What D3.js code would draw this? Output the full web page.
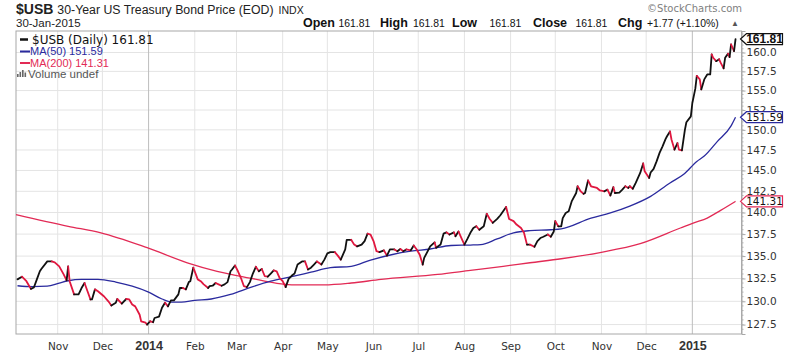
<!DOCTYPE html>
<html>
<head>
<meta charset="utf-8">
<script src="https://cdn.jsdelivr.net/npm/d3@7"></script>
<style>
  body { margin: 0; background: #fff; }
  svg { display: block; font-family: "Liberation Sans", Arial, sans-serif; }
</style>
</head>
<body>
<svg id="chart" width="800" height="354"></svg>
<script>
// $USB daily close
const priceDates = [
  "2013-10-05","2013-10-08","2013-10-11","2013-10-14","2013-10-16","2013-10-18","2013-10-20","2013-10-21","2013-10-25","2013-10-28","2013-10-30",
  "2013-11-02","2013-11-05","2013-11-07","2013-11-08","2013-11-09","2013-11-12","2013-11-15","2013-11-17","2013-11-19","2013-11-21","2013-11-23","2013-11-24","2013-11-26","2013-11-28",
  "2013-12-02","2013-12-05","2013-12-07","2013-12-10","2013-12-11","2013-12-14","2013-12-17","2013-12-19","2013-12-21","2013-12-23","2013-12-26","2013-12-27","2013-12-30","2013-12-31",
  "2014-01-02","2014-01-04","2014-01-05","2014-01-08","2014-01-10","2014-01-12","2014-01-14","2014-01-16","2014-01-18","2014-01-21","2014-01-22","2014-01-24","2014-01-26","2014-01-28","2014-01-29","2014-01-31",
  "2014-02-03","2014-02-05","2014-02-07","2014-02-10","2014-02-11","2014-02-13","2014-02-15","2014-02-17","2014-02-19","2014-02-21","2014-02-23","2014-02-25","2014-02-26","2014-02-28",
  "2014-03-02","2014-03-04","2014-03-06","2014-03-08","2014-03-10","2014-03-12","2014-03-14","2014-03-16","2014-03-18","2014-03-20","2014-03-22","2014-03-24","2014-03-26","2014-03-28","2014-03-30",
  "2014-04-01","2014-04-03","2014-04-05","2014-04-07","2014-04-09","2014-04-11","2014-04-14","2014-04-16","2014-04-18","2014-04-20","2014-04-22","2014-04-24","2014-04-27","2014-04-29",
  "2014-05-01","2014-05-03","2014-05-06","2014-05-08","2014-05-10","2014-05-13","2014-05-14","2014-05-17","2014-05-19","2014-05-21","2014-05-24","2014-05-26","2014-05-28","2014-05-30",
  "2014-06-01","2014-06-03","2014-06-05","2014-06-08","2014-06-10","2014-06-12","2014-06-15","2014-06-17","2014-06-19","2014-06-21","2014-06-23","2014-06-26","2014-06-28","2014-06-30",
  "2014-07-02","2014-07-04","2014-07-05","2014-07-08","2014-07-09","2014-07-12","2014-07-13","2014-07-16","2014-07-18","2014-07-20","2014-07-22","2014-07-25","2014-07-26","2014-07-28","2014-07-30",
  "2014-08-01","2014-08-03","2014-08-05","2014-08-07","2014-08-09","2014-08-11","2014-08-14","2014-08-16","2014-08-18","2014-08-20","2014-08-23","2014-08-25","2014-08-27","2014-08-29","2014-08-31",
  "2014-09-03","2014-09-05","2014-09-08","2014-09-10","2014-09-12","2014-09-14","2014-09-17","2014-09-19","2014-09-21","2014-09-23","2014-09-26","2014-09-28","2014-09-30",
  "2014-10-01","2014-10-03","2014-10-05","2014-10-06","2014-10-08","2014-10-10","2014-10-12","2014-10-15","2014-10-16","2014-10-18","2014-10-20","2014-10-21","2014-10-23","2014-10-25","2014-10-27","2014-10-29","2014-10-31",
  "2014-11-03","2014-11-05","2014-11-07","2014-11-09","2014-11-10","2014-11-13","2014-11-15","2014-11-17","2014-11-19","2014-11-20","2014-11-22","2014-11-24","2014-11-27","2014-11-29","2014-11-30",
  "2014-12-03","2014-12-04","2014-12-06","2014-12-08","2014-12-10","2014-12-12","2014-12-14","2014-12-15","2014-12-17","2014-12-18","2014-12-20","2014-12-22","2014-12-23","2014-12-25","2014-12-27","2014-12-28","2014-12-31",
  "2015-01-01","2015-01-03","2015-01-04","2015-01-06","2015-01-07","2015-01-09","2015-01-11","2015-01-13","2015-01-14","2015-01-15","2015-01-17","2015-01-19","2015-01-20","2015-01-22","2015-01-23","2015-01-25","2015-01-26","2015-01-27","2015-01-29","2015-01-30"
];
const priceValues = [
  132.4,132.7,132.2,131.35,131.5,132.4,133.3,133.55,134.4,134.4,134.3,
  133.85,132.95,132.3,133.85,132.2,130.75,130.75,131.45,132.0,131.1,130.2,130.2,131.3,131.1,
  130.55,130.0,129.55,129.85,130.25,129.75,130.25,130.2,129.65,129.45,128.55,127.85,127.7,127.5,
  127.85,127.75,128.2,128.35,129.3,129.85,129.45,130.1,130.1,130.75,131.45,131.45,131.3,132.1,132.2,133.7,
  132.4,132.2,131.85,131.45,131.65,131.7,132.0,131.85,131.7,131.85,132.1,133.3,133.5,133.95,
  133.3,132.55,131.65,131.55,132.1,133.05,133.8,133.3,133.55,132.75,132.7,133.05,133.4,133.3,132.55,
  132.2,131.55,132.45,132.8,133.05,134.05,134.4,134.4,133.5,133.7,134.05,134.4,134.05,134.6,
  135.3,135.45,135.45,135.05,134.6,135.75,136.85,136.85,136.3,136.1,136.3,136.7,137.55,137.45,
  136.7,135.55,135.45,135.65,135.05,135.75,135.75,135.55,135.8,135.55,135.75,135.65,136.2,135.75,
  135.15,134.05,134.8,135.75,136.1,136.55,135.95,136.3,137.55,137.7,137.45,137.7,137.25,137.8,137.05,
  136.3,136.95,137.65,138.2,138.4,138.0,138.4,139.85,139.25,138.8,139.25,139.65,140.15,140.65,139.25,
  139.0,138.6,138.2,137.65,136.3,136.3,136.05,136.7,137.05,137.2,137.45,137.2,137.8,
  139.0,138.4,138.4,139.35,139.95,140.15,141.3,142.3,143.1,142.5,142.2,142.3,143.8,143.1,143.0,142.9,142.6,
  142.5,142.7,142.0,143.0,142.3,142.35,142.7,143.1,142.9,143.1,142.8,143.5,144.7,145.85,144.9,
  144.1,144.75,145.2,146.1,147.15,147.95,148.85,149.2,149.8,148.8,147.55,148.35,147.55,147.45,150.0,150.95,151.7,
  153.4,155.25,156.9,156.45,155.15,156.45,157.1,157.1,159.75,159.3,158.85,159.1,158.65,157.9,159.3,159.85,159.4,161.1,160.2,161.81
];

const ma50Dates = ["2013-10-05","2013-10-15","2013-10-25","2013-11-02","2013-11-08","2013-11-17","2013-11-28","2013-12-10","2013-12-21",
  "2014-01-01","2014-01-10","2014-01-17","2014-01-23","2014-02-01","2014-02-12","2014-02-25","2014-03-11","2014-03-24","2014-04-07",
  "2014-04-20","2014-05-03","2014-05-17","2014-05-30","2014-06-13","2014-06-26","2014-07-09","2014-07-23","2014-08-05","2014-08-12",
  "2014-08-23","2014-09-03","2014-09-14","2014-09-28","2014-10-05","2014-10-25","2014-11-07","2014-11-20","2014-12-04","2014-12-17",
  "2014-12-26","2015-01-04","2015-01-09","2015-01-18","2015-01-27","2015-01-30"];
const ma50Values = [131.7,131.6,131.65,132.0,132.25,132.4,132.4,132.1,131.65,
  131.0,130.25,129.9,129.9,130.1,130.25,130.75,131.55,132.2,132.7,
  133.2,133.7,133.85,134.55,135.15,135.55,135.8,136.2,136.25,136.3,
  136.95,137.65,137.9,138.0,138.1,139.35,139.95,140.75,141.9,143.5,
  144.5,146.1,146.75,148.6,150.5,151.59];

const ma200Dates = ["2013-10-04","2013-11-08","2013-11-30","2013-12-31","2014-01-27","2014-02-16","2014-03-10","2014-03-31",
  "2014-04-07","2014-04-29","2014-05-17","2014-06-06","2014-07-14","2014-08-05","2014-08-27","2014-09-14","2014-10-05",
  "2014-10-31","2014-11-27","2014-12-24","2015-01-02","2015-01-11","2015-01-20","2015-01-30"];
const ma200Values = [139.75,138.4,137.65,135.95,134.25,133.3,132.55,131.9,
  131.8,131.8,132.0,132.4,132.95,133.4,133.85,134.25,134.7,
  135.4,136.4,138.2,138.8,139.35,140.25,141.31];

const yTicks = [127.5,130,132.5,135,137.5,140,142.5,145,147.5,150,152.5,155,157.5,160];
const monthTicks = ["2013-11-01","2013-12-01","2014-01-01","2014-02-01","2014-03-01","2014-04-01","2014-05-01",
  "2014-06-01","2014-07-01","2014-08-01","2014-09-01","2014-10-01","2014-11-01","2014-12-01","2015-01-01"];
const monthLabels = ["Nov","Dec","2014","Feb","Mar","Apr","May","Jun","Jul","Aug","Sep","Oct","Nov","Dec","2015"];

const headerLabels = ["Open","High","Low","Close","Chg"];
const headerValues = ["161.81","161.81","161.81","161.81","+1.77 (+1.10%)"];
const lastPrice = 161.81, lastMa50 = 151.59, lastMa200 = 141.31;

const upColor = "#111", downColor = "#e0173f", ma50Color = "#2a2a9e", ma200Color = "#e22a55";

const svg = d3.select("#chart");
const plotL = 16, plotR = 741.5, plotT = 31, plotB = 334;
const parse = d3.timeParse("%Y-%m-%d");

const x = d3.scaleTime()
  .domain([parse("2013-10-04"), parse("2015-02-03")])
  .range([plotL, plotR]);
const y = d3.scaleLog()
  .domain([126.5, 162.9])
  .range([plotB, plotT]);

// grid
const grid = svg.append("g");
grid.selectAll("line.h").data(yTicks).enter().append("line")
  .attr("x1", plotL).attr("x2", plotR)
  .attr("y1", d => y(d)).attr("y2", d => y(d))
  .attr("stroke", "#e4e4e4").attr("stroke-width", 1);
grid.selectAll("line.v").data(monthTicks).enter().append("line")
  .attr("x1", d => x(parse(d))).attr("x2", d => x(parse(d)))
  .attr("y1", plotT).attr("y2", plotB)
  .attr("stroke", (d, i) => monthLabels[i].length === 4 ? "#bdbdbd" : "#e4e4e4")
  .attr("stroke-width", 1);

// frame
svg.append("rect")
  .attr("x", plotL).attr("y", plotT)
  .attr("width", plotR - plotL).attr("height", plotB - plotT)
  .attr("fill", "none").attr("stroke", "#a8a8a8").attr("stroke-width", 1);

// right axis
const yAxis = d3.axisRight(y)
  .tickValues(yTicks)
  .tickFormat(d3.format(".1f"))
  .tickSize(4).tickPadding(1);
const ya = svg.append("g").attr("transform", `translate(${plotR},0)`).call(yAxis);
ya.select(".domain").attr("stroke", "#a8a8a8");
ya.selectAll(".tick line").attr("stroke", "#a8a8a8");
ya.selectAll(".tick text")
  .attr("fill", "#333")
  .style("font-family", "'DejaVu Sans', Verdana, sans-serif")
  .style("font-size", "10.5px");
// minor ticks
svg.append("g").selectAll("line").data(d3.range(127, 163, 0.5)).enter().append("line")
  .attr("x1", plotR).attr("x2", plotR + 2)
  .attr("y1", d => y(d)).attr("y2", d => y(d))
  .attr("stroke", "#b0b0b0");

// bottom axis labels
const xAxis = d3.axisBottom(x)
  .tickValues(monthTicks.map(parse))
  .tickFormat((d, i) => monthLabels[i])
  .tickSize(0).tickPadding(8);
const xa = svg.append("g").attr("transform", `translate(0,${plotB})`).call(xAxis);
xa.select(".domain").remove();
xa.selectAll(".tick text")
  .attr("fill", "#333")
  .style("font-family", (d, i) => monthLabels[i].length === 4 ? "'Liberation Sans', Arial, sans-serif" : "'DejaVu Sans', Verdana, sans-serif")
  .style("font-weight", (d, i) => monthLabels[i].length === 4 ? "bold" : "normal")
  .style("font-size", (d, i) => monthLabels[i].length === 4 ? "12.5px" : "10.5px")
  .attr("dy", (d, i) => monthLabels[i].length === 4 ? "0.62em" : "0.75em");

// moving averages
const maLine = d3.line().x(d => x(d.date)).y(d => y(d.value)).curve(d3.curveMonotoneX);
const ma200 = ma200Dates.map((d, i) => ({ date: parse(d), value: ma200Values[i] }));
const ma50 = ma50Dates.map((d, i) => ({ date: parse(d), value: ma50Values[i] }));
svg.append("path").datum(ma200).attr("d", maLine)
  .attr("fill", "none").attr("stroke", ma200Color).attr("stroke-width", 1.3);
svg.append("path").datum(ma50).attr("d", maLine)
  .attr("fill", "none").attr("stroke", ma50Color).attr("stroke-width", 1.3);

// price line, black on up days and red on down days
const pts = priceDates.map((d, i) => ({ date: parse(d), value: priceValues[i] }));
const runs = [];
for (let i = 1; i < pts.length; i++) {
  const up = pts[i].value >= pts[i - 1].value;
  const last = runs[runs.length - 1];
  if (last && last.up === up) last.pts.push(pts[i]);
  else runs.push({ up: up, pts: [pts[i - 1], pts[i]] });
}
const priceLine = d3.line().x(d => x(d.date)).y(d => y(d.value));
svg.append("g").selectAll("path").data(runs).enter().append("path")
  .attr("d", d => priceLine(d.pts))
  .attr("fill", "none")
  .attr("stroke", d => d.up ? upColor : downColor)
  .attr("stroke-width", 1.8)
  .attr("stroke-linejoin", "round")
  .attr("stroke-linecap", "round");

// value tags on the right axis
function tag(v, color, bold) {
  const yy = y(v);
  svg.append("path")
    .attr("d", `M${plotR - 1},${yy} L${plotR + 5},${yy - 5.5} L${plotR + 41},${yy - 5.5} L${plotR + 41},${yy + 5.5} L${plotR + 5},${yy + 5.5} Z`)
    .attr("fill", "#fff").attr("stroke", color).attr("stroke-width", 1.2);
  svg.append("text")
    .attr("x", plotR + 23).attr("y", yy + 4)
    .attr("text-anchor", "middle")
    .style("font-family", bold ? "'Liberation Sans', Arial, sans-serif" : "'DejaVu Sans', Verdana, sans-serif")
    .style("font-size", bold ? "12px" : "10.5px")
    .style("font-weight", bold ? "bold" : "normal")
    .attr("fill", "#111")
    .text(v.toFixed(2));
}
tag(lastMa200, ma200Color, false);
tag(lastMa50, ma50Color, false);
tag(lastPrice, "#111", true);

// title
const title = svg.append("text").attr("x", 16).attr("y", 14).attr("fill", "#222");
title.append("tspan").style("font-weight", "bold").style("font-size", "14px").text("$USB");
title.append("tspan").attr("dx", 4).style("font-size", "12.3px").text("30-Year US Treasury Bond Price (EOD)");
title.append("tspan").attr("dx", 5).style("font-size", "10.5px").text("INDX");

svg.append("text").attr("x", 16).attr("y", 27).attr("fill", "#222")
  .style("font-size", "11.5px").text("30-Jan-2015");

svg.append("text").attr("x", 742).attr("y", 12).attr("text-anchor", "end").attr("fill", "#808080")
  .style("font-family", "'DejaVu Sans', Verdana, sans-serif").style("font-size", "10px")
  .text("\u00A9StockCharts.com");

// header with open/high/low/close/change
const labelX = [303, 380, 452, 533, 618];
const valueX = [338.5, 413, 489.5, 575.5, 647];
headerLabels.forEach((l, i) => {
  svg.append("text").attr("x", labelX[i]).attr("y", 27).attr("fill", "#111")
    .style("font-weight", "bold").style("font-size", "12.5px").text(l);
  svg.append("text").attr("x", valueX[i]).attr("y", 27).attr("fill", "#111")
    .style("font-size", "10.4px").text(headerValues[i]);
});
svg.append("text").attr("x", 731).attr("y", 26).attr("fill", "#555")
  .style("font-size", "8px").text("\u25B2");

// legend
const leg = svg.append("g").style("font-family", "'DejaVu Sans', Verdana, sans-serif");
leg.append("line").attr("x1", 20).attr("x2", 28).attr("y1", 39.5).attr("y2", 39.5)
  .attr("stroke", "#111").attr("stroke-width", 2.5);
leg.append("text").attr("x", 32).attr("y", 43.5).attr("fill", "#111")
  .style("font-size", "12px").text("$USB (Daily) " + lastPrice.toFixed(2));
leg.append("line").attr("x1", 20).attr("x2", 30).attr("y1", 51.5).attr("y2", 51.5)
  .attr("stroke", ma50Color).attr("stroke-width", 2);
leg.append("text").attr("x", 30).attr("y", 55).attr("fill", ma50Color)
  .style("font-family", "'Liberation Sans', Arial, sans-serif")
  .style("font-size", "11px").text("MA(50) " + lastMa50.toFixed(2));
leg.append("line").attr("x1", 20).attr("x2", 30).attr("y1", 63).attr("y2", 63)
  .attr("stroke", ma200Color).attr("stroke-width", 2);
leg.append("text").attr("x", 30).attr("y", 66.7).attr("fill", ma200Color)
  .style("font-family", "'Liberation Sans', Arial, sans-serif")
  .style("font-size", "11px").text("MA(200) " + lastMa200.toFixed(2));
// volume icon
[[17, 3], [19.5, 5], [22, 7], [24.5, 4.5]].forEach(b => {
  leg.append("rect").attr("x", b[0]).attr("y", 77 - b[1]).attr("width", 1.6).attr("height", b[1]).attr("fill", "#666");
});
leg.append("text").attr("x", 28).attr("y", 78).attr("fill", "#555")
  .style("font-family", "'Liberation Sans', Arial, sans-serif")
  .style("font-size", "11.5px").text("Volume undef");
</script>
</body>
</html>
